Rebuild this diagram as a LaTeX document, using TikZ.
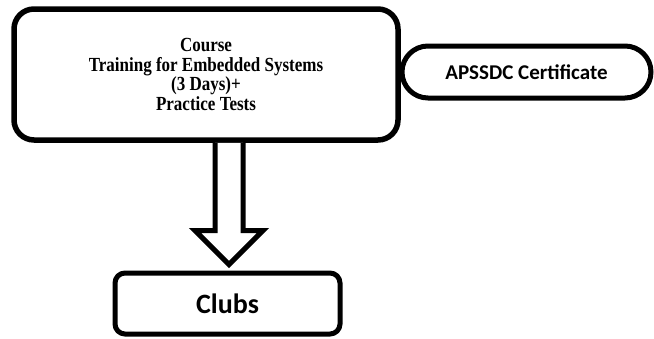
\documentclass[tikz,border=0pt]{standalone}
\usepackage{fontspec}
\usepackage{graphicx}
\setmainfont{Liberation Serif}
\newfontfamily\calib{Carlito}
\usetikzlibrary{calc}
\begin{document}
\begin{tikzpicture}[x=1pt,y=-1pt,
  boxstyle/.style={draw,line width=5.5pt,align=center,inner sep=0pt},
  arrowstyle/.style={draw,line width=5pt,line join=miter,fill=white}]
\useasboundingbox (0,0) rectangle (654,338);
\node[boxstyle,rounded corners=20pt,minimum width=384pt,minimum height=131pt,
  font=\fontsize{20}{19.5}\selectfont\bfseries] (main) at (206,74.5)
  {\raisebox{6pt}{\scalebox{0.85}[1]{\parbox{340pt}{\centering Course\\Training for Embedded Systems\\(3 Days)+\\Practice Tests}}}};
\node[boxstyle,line width=5pt,rounded corners=26pt,minimum width=249pt,minimum height=52pt,
  font=\calib\fontsize{21}{24}\selectfont\bfseries] (cert) at (526.5,72)
  {\raisebox{-3pt}{APSSDC Certificate}};
\node[boxstyle,line width=5pt,rounded corners=10pt,minimum width=225pt,minimum height=61pt,
  font=\calib\fontsize{28}{32}\selectfont\bfseries] (clubs) at (227.5,303.5)
  {\raisebox{-3pt}{Clubs}};
\coordinate (top) at ($(main.south)+(23,0)$);
\coordinate (tip) at ($(clubs.north)+(1.5,-6)$);
\draw[arrowstyle] ($(top)+(-14,0)$) -- ($(tip)+(-14,-34)$) -- ($(tip)+(-34,-34)$) -- (tip)
  -- ($(tip)+(34,-34)$) -- ($(tip)+(14,-34)$) -- ($(top)+(14,0)$);
\end{tikzpicture}
\end{document}
